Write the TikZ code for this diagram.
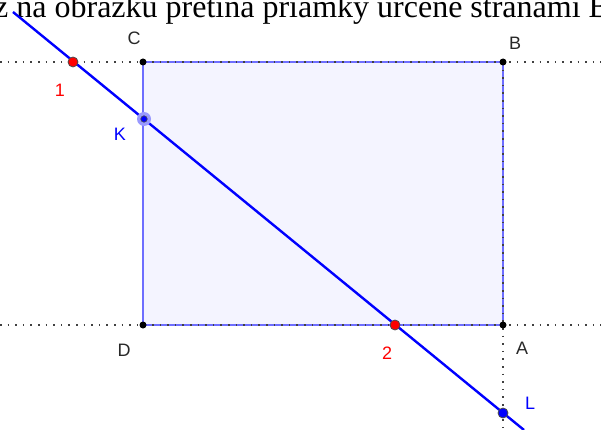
\documentclass[tikz,border=0pt]{standalone}
\usepackage{fontspec}
\setmainfont{Liberation Serif}
\newfontfamily\lblfont{Liberation Sans}
\definecolor{ggblue}{RGB}{0,0,255}
\definecolor{edgeblue}{RGB}{110,110,255}
\definecolor{fillblue}{RGB}{244,244,255}
\definecolor{ggred}{RGB}{255,0,0}
\definecolor{lbl}{RGB}{40,40,40}
\begin{document}
\begin{tikzpicture}[x=1pt,y=-1pt,
  dotline/.style={draw=black!75,line width=1.6pt,dash pattern=on 1.6pt off 6pt},
  edge/.style={draw=edgeblue,line width=1.3pt},
  mainline/.style={draw=ggblue,line width=2.4pt},
  vtx/.style={circle,fill=black,inner sep=0pt,minimum size=7pt},
  redpt/.style={circle,fill=ggred,draw=black!70,line width=0.8pt,inner sep=0pt,minimum size=10pt},
  bluept/.style={circle,fill=ggblue,draw=black!70,line width=0.8pt,inner sep=0pt,minimum size=10pt},
  halo/.style={circle,fill=ggblue!40,inner sep=0pt,minimum size=14pt},
  lab/.style={font=\lblfont\fontsize{18}{18}\selectfont,text=lbl,inner sep=0pt},
  redlab/.style={lab,text=ggred},
  bluelab/.style={lab,text=ggblue}]
\useasboundingbox (0,0) rectangle (601,430);
\fill[white] (0,0) rectangle (601,430);
\clip (0,0) rectangle (601,430);
% coordinates
\coordinate (C) at (143,62);
\coordinate (B) at (503,62);
\coordinate (D) at (143,325);
\coordinate (A) at (503,325);
\coordinate (P1) at (73,62);
\coordinate (K) at (144,119);
\coordinate (P2) at (395,325);
\coordinate (L) at (503,413);
\coordinate (S) at (13,12);
\coordinate (E) at (524,430);
\coordinate (HL1) at (0,62);
\coordinate (HR1) at (601,62);
\coordinate (HL2) at (0,325);
\coordinate (HR2) at (601,325);
\coordinate (VB) at (503,430);
% title text (cut off in the reference)
\node[anchor=base west,inner sep=0pt,font=\fontsize{32}{32}\selectfont] (title) at (-6,18) {z na obrázku pretína priamky určené stranami B};
% polygon
\fill[fillblue] (C) -- (B) -- (A) -- (D) -- cycle;
\draw[edge] (C) -- (B);
\draw[edge] (B) -- (A);
\draw[edge] (A) -- (D);
\draw[edge] (D) -- (C);
% dotted lines
\draw[dotline] (HL1) -- (HR1);
\draw[dotline] (HL2) -- (HR2);
\draw[dotline] (B) -- (VB);
% main line
\draw[mainline] (S) -- (E);
% points
\node[vtx] (nC) at (C) {};
\node[vtx] (nB) at (B) {};
\node[vtx] (nD) at (D) {};
\node[vtx] (nA) at (A) {};
\node[redpt] (n1) at (P1) {};
\node[redpt] (n2) at (P2) {};
\node[halo] (nKh) at (K) {};
\node[circle,fill=ggblue,draw=black!70,line width=0.6pt,inner sep=0pt,minimum size=6.5pt] (nK) at (K) {};
\node[bluept] (nL) at (L) {};
% labels
\node[lab] (lC) at (134,38) {C};
\node[lab] (lB) at (515,43) {B};
\node[lab] (lD) at (124,350) {D};
\node[lab] (lA) at (522,348) {A};
\node[redlab] (l1) at (60,90) {1};
\node[redlab] (l2) at (387,353) {2};
\node[bluelab] (lK) at (120,134) {K};
\node[bluelab] (lL) at (530,403) {L};
\end{tikzpicture}
\end{document}
